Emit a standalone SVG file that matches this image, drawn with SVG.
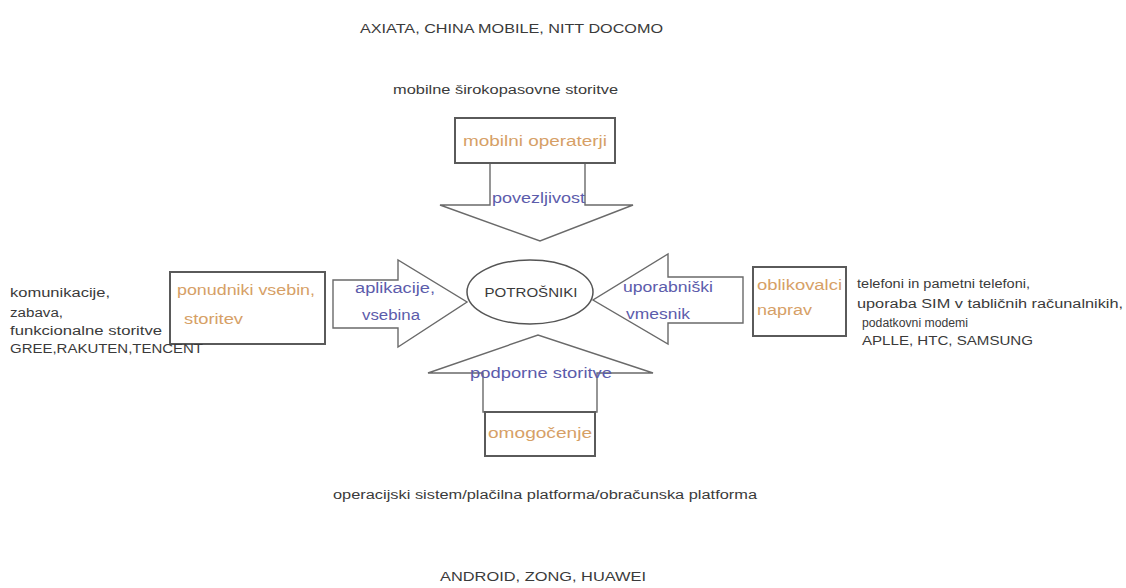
<svg xmlns="http://www.w3.org/2000/svg" width="1126" height="588" viewBox="0 0 1126 588">
<style>
text{font-family:"Liberation Sans",Arial,sans-serif;}
.k{fill:#3a3a3a;font-size:12px;}
.h{fill:#3a3a3a;font-size:13px;}
.o{fill:#d6a066;font-size:14px;}
.b{fill:#5c5cab;font-size:14px;}
.box{fill:#ffffff;stroke:#5a5a5a;stroke-width:2;}
.arr{fill:#ffffff;stroke:#6a6a6a;stroke-width:1.4;stroke-linejoin:miter;}
.ell{fill:#ffffff;stroke:#555;stroke-width:1.5;}
</style>
<rect width="1126" height="588" fill="#ffffff"/>

<g id="connectors">
  <g id="arrow-top">
    <polygon class="arr" points="490,163 585,163 585,205 633,205 540,241 440,205 490,205"/>
    <text class="b" x="538.5" y="203" text-anchor="middle" textLength="93" lengthAdjust="spacingAndGlyphs">povezljivost</text>
  </g>
  <g id="arrow-left">
    <polygon class="arr" points="333,280 398,280 398,260 467,302 398,347 398,328 333,328"/>
    <text class="b" x="355" y="293" textLength="80" lengthAdjust="spacingAndGlyphs">aplikacije,</text>
    <text class="b" x="362" y="320" textLength="58" lengthAdjust="spacingAndGlyphs">vsebina</text>
  </g>
  <g id="arrow-right">
    <polygon class="arr" points="743,277 668,277 668,254 593,300 668,344 668,323 743,323"/>
    <text class="b" x="623" y="292" textLength="90" lengthAdjust="spacingAndGlyphs">uporabniški</text>
    <text class="b" x="626" y="319" textLength="64" lengthAdjust="spacingAndGlyphs">vmesnik</text>
  </g>
  <g id="arrow-bottom">
    <polygon class="arr" points="483,412 597,412 597,373 653,373 538,335 428,373 483,373"/>
    <text class="b" x="541" y="378" text-anchor="middle" textLength="142" lengthAdjust="spacingAndGlyphs">podporne storitve</text>
  </g>
</g>

<g id="node-potrosniki">
  <ellipse class="ell" cx="530" cy="292" rx="63" ry="32"/>
  <text class="h" x="531" y="297" text-anchor="middle" textLength="93" lengthAdjust="spacingAndGlyphs" font-size="14">POTROŠNIKI</text>
</g>

<g id="node-mobilni-operaterji">
  <rect class="box" x="455" y="118" width="160" height="45"/>
  <text class="o" x="535" y="146" text-anchor="middle" textLength="144" lengthAdjust="spacingAndGlyphs">mobilni operaterji</text>
</g>

<g id="node-ponudniki">
  <rect class="box" x="170" y="272" width="155" height="72"/>
  <text class="o" x="177" y="295" textLength="138" lengthAdjust="spacingAndGlyphs">ponudniki vsebin,</text>
  <text class="o" x="184" y="324" textLength="59" lengthAdjust="spacingAndGlyphs">storitev</text>
</g>

<g id="node-oblikovalci">
  <rect class="box" x="753" y="267" width="93" height="69"/>
  <text class="o" x="757" y="290" textLength="85" lengthAdjust="spacingAndGlyphs">oblikovalci</text>
  <text class="o" x="757" y="315" textLength="55" lengthAdjust="spacingAndGlyphs">naprav</text>
</g>

<g id="node-omogocenje">
  <rect class="box" x="485" y="412" width="110" height="44"/>
  <text class="o" x="540" y="438" text-anchor="middle" textLength="104" lengthAdjust="spacingAndGlyphs">omogočenje</text>
</g>

<g id="labels">
  <text class="h" x="360" y="33" textLength="303" lengthAdjust="spacingAndGlyphs">AXIATA, CHINA MOBILE, NITT DOCOMO</text>
  <text class="k" x="393" y="94" textLength="225" lengthAdjust="spacingAndGlyphs" font-size="11">mobilne širokopasovne storitve</text>

  <text class="k" x="10" y="297" textLength="100" lengthAdjust="spacingAndGlyphs">komunikacije,</text>
  <text class="k" x="10" y="317" textLength="53" lengthAdjust="spacingAndGlyphs">zabava,</text>
  <text class="k" x="10" y="335" textLength="152" lengthAdjust="spacingAndGlyphs">funkcionalne storitve</text>
  <text class="k" x="10" y="353" textLength="193" lengthAdjust="spacingAndGlyphs">GREE,RAKUTEN,TENCENT</text>

  <text class="k" x="857" y="288" textLength="173" lengthAdjust="spacingAndGlyphs">telefoni in pametni telefoni,</text>
  <text class="k" x="857" y="308" textLength="266" lengthAdjust="spacingAndGlyphs">uporaba SIM v tabličnih računalnikih,</text>
  <text class="k" x="862" y="327" textLength="106" lengthAdjust="spacingAndGlyphs">podatkovni modemi</text>
  <text class="k" x="862" y="345" textLength="171" lengthAdjust="spacingAndGlyphs">APLLE, HTC, SAMSUNG</text>

  <text class="k" x="333" y="499" textLength="424" lengthAdjust="spacingAndGlyphs">operacijski sistem/plačilna platforma/obračunska platforma</text>
  <text class="h" x="440" y="581" textLength="206" lengthAdjust="spacingAndGlyphs">ANDROID, ZONG, HUAWEI</text>
</g>
</svg>
